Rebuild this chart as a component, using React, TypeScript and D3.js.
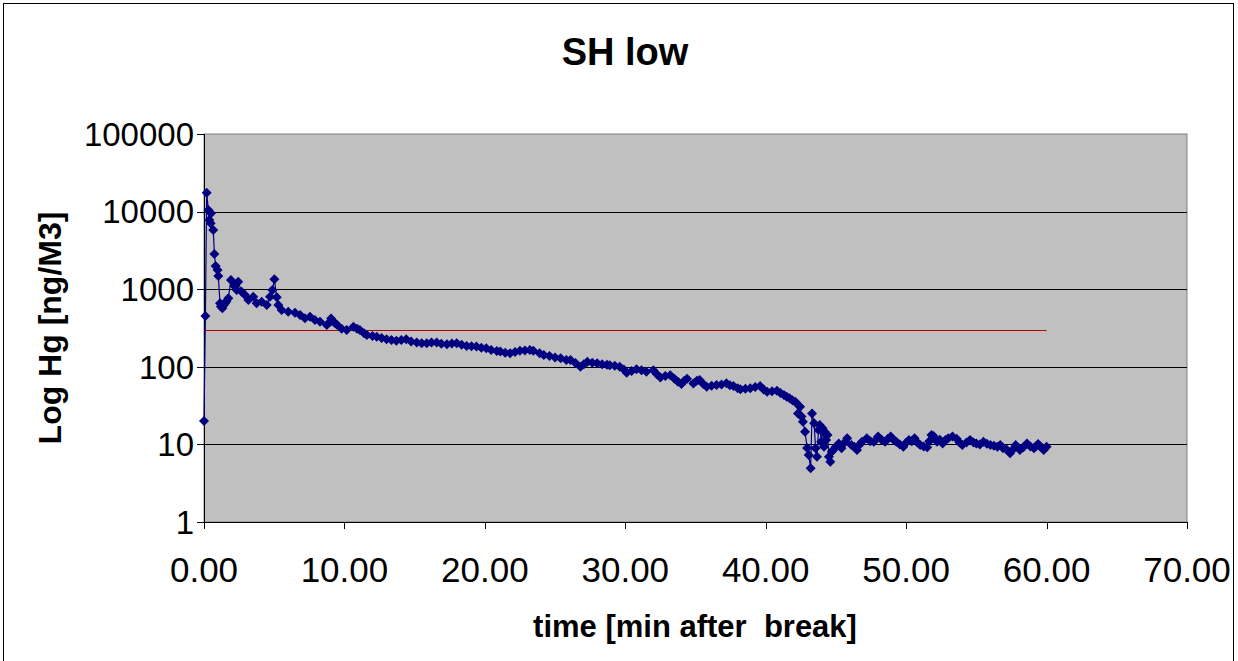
import * as d3 from 'd3';

// minutes after break
const times = [
  0, 0.1, 0.19, 0.31, 0.38, 0.47, 0.5, 0.66, 0.74, 0.83, 0.97, 1.02, 1.14, 1.2, 1.31, 1.4, 1.5, 1.6, 1.73,
  1.92, 2.16, 2.33, 2.44, 2.68, 2.92, 3.16, 3.51, 3.75, 4.11, 4.47, 4.7, 4.87, 5.01, 5.18, 5.29, 5.53,
  6.0, 6.48, 6.84, 7.19, 7.55, 7.9, 8.26, 8.74, 9.0, 9.05, 9.3, 9.45, 9.8, 10.16, 10.64, 10.9, 11.1,
  11.4, 11.6, 12.0, 12.3, 12.65, 13.0, 13.35, 13.7, 14.05, 14.4, 14.75, 15.15, 15.5, 15.86, 16.2,
  16.57, 16.9, 17.3, 17.65, 18.0, 18.35, 18.7, 19.05, 19.4, 19.75, 20.1, 20.45, 20.85, 21.1, 21.45,
  21.8, 22.15, 22.5, 22.85, 23.2, 23.45, 23.9, 24.2, 24.6, 25.0, 25.4, 25.8, 26.1, 26.45, 26.8, 27.05,
  27.3, 27.65, 28.0, 28.35, 28.7, 28.9, 29.25, 29.6, 29.9, 30.1, 30.45, 30.8, 31.15, 31.5, 32.0, 32.25,
  32.5, 32.85, 33.2, 33.5, 33.75, 34.0, 34.2, 34.4, 34.85, 35.1, 35.3, 35.55, 35.8, 36.15, 36.5, 36.85,
  37.2, 37.45, 37.7, 38.0, 38.2, 38.55, 38.9, 39.25, 39.6, 39.85, 40.1, 40.45, 40.8, 41.05, 41.3, 41.5,
  41.7, 41.9, 42.1, 42.2, 42.3, 42.45, 42.55, 42.65, 42.8, 42.95, 43.06, 43.2, 43.3, 43.45, 43.55,
  43.65, 43.76, 43.85, 43.95, 44.05, 44.15, 44.2, 44.3, 44.4, 44.5, 44.6, 44.7, 44.8, 45.0, 45.2, 45.4,
  45.6, 45.8, 46.1, 46.3, 46.5, 46.7, 46.85, 47.2, 47.45, 47.7, 48.0, 48.25, 48.5, 48.7, 48.9, 49.1,
  49.3, 49.55, 49.8, 50.0, 50.2, 50.4, 50.6, 50.8, 51.0, 51.25, 51.5, 51.65, 51.8, 51.95, 52.2, 52.4,
  52.6, 52.8, 53.0, 53.3, 53.6, 53.8, 54.0, 54.3, 54.55, 54.8, 55.0, 55.25, 55.5, 55.75, 56.0, 56.25,
  56.5, 56.7, 56.9, 57.15, 57.4, 57.6, 57.8, 58.0, 58.1, 58.35, 58.6, 58.85, 59.1, 59.25, 59.4, 59.6,
  59.8, 60.0,
];

// Hg concentration, ng/m3
const hg = [
  20, 452, 17500, 10500, 7800, 7070, 9500, 5800, 2840, 1990, 1770, 1480, 658, 600, 567, 620, 658, 700, 763,
  1315, 1100, 977, 1250, 925, 842, 726, 801, 658, 690, 626, 801, 977, 1340, 787, 626, 540,
  513, 498, 465, 422, 442, 400, 381, 346, 380, 420, 370, 350, 310, 298, 329, 310, 298,
  270, 257, 250, 244, 235, 226, 222, 217, 222, 226, 212, 205, 201, 201, 206,
  205, 198, 195, 200, 201, 192, 185, 184, 182, 176, 173, 165, 160, 157, 152,
  149, 155, 161, 162, 165, 161, 149, 142, 138, 132, 129, 122, 122, 112, 100, 108,
  116, 113, 111, 108, 106, 105, 103, 100, 92, 84, 88, 93, 90, 86.5, 90, 80,
  73, 76, 78, 70, 64, 60, 66, 70, 61, 66, 67.6, 60, 55.4, 57, 58.3, 59,
  61.3, 58, 56.6, 53, 51.3, 52, 52.8, 55, 56.6, 51, 47.8, 48.5, 49.2, 46, 43.3, 41,
  39.3, 37, 35.5, 33.9, 25.1, 30.6, 22.8, 19.6, 14.6, 9, 7.3, 4.92, 25.1, 18.7, 8.9,
  6.95, 15.3, 17.8, 10.8, 16.1, 9.3, 14.6, 11.4, 13.2, 6.95, 5.98, 8.05, 8.47, 9.3, 10.3, 8.9,
  10.5, 12.0, 9.8, 9.3, 8.47, 10.0, 10.8, 12.0, 11.0, 10.8, 12.6, 11.5, 10.8, 11.8, 12.6, 11.5,
  10.8, 10.0, 9.3, 10.5, 11.4, 11.0, 12.0, 10.6, 9.8, 9.4, 9.17, 11.0, 13.2, 12.8, 10.8, 11.5,
  10.3, 11.4, 12.0, 12.6, 11.8, 10.6, 9.8, 10.6, 11.4, 10.6, 10.3, 10.0, 10.8, 10.2, 9.8, 9.6,
  9.3, 9.8, 8.9, 8.6, 7.68, 8.6, 9.8, 9.0, 8.47, 9.2, 10.3, 9.4, 8.9, 9.5, 10.1, 9.2,
  8.47, 9.3,
];

const limitValue = 300;
const limitRange = [0, 60];
const yTicks = [1, 10, 100, 1000, 10000, 100000];
const xTicks = [0, 10, 20, 30, 40, 50, 60, 70];

const W = 1238;
const H = 661;
const plot = { left: 204, right: 1187, top: 134, bottom: 522 };
const font = '"Liberation Sans", Arial, sans-serif';

export default function App() {
  const x = d3.scaleLinear().domain([0, 70]).range([plot.left, plot.right]);
  const y = d3.scaleLog().domain([1, 100000]).range([plot.bottom, plot.top]);

  const pts = times.map((t, i) => [x(t), y(hg[i])] as [number, number]);
  const line = d3.line()(pts) || '';
  const diamond = 'M0,-5L5,0L0,5L-5,0Z';

  return (
    <svg width={W} height={H} style={{ position: 'absolute', left: 0, top: 0 }}>
      <rect x={0} y={0} width={W} height={H} fill="#fff" />
      <rect x={3.5} y={3.5} width={1230} height={680} fill="none" stroke="#000" strokeWidth={1} />
      <text x={625} y={65} textAnchor="middle" fontFamily={font} fontWeight="bold" fontSize={38}>
        SH low
      </text>

      <rect
        x={plot.left}
        y={plot.top}
        width={plot.right - plot.left}
        height={plot.bottom - plot.top}
        fill="#c0c0c0"
        stroke="#808080"
      />
      {yTicks.slice(1, -1).map((v) => (
        <line key={v} x1={plot.left} x2={plot.right} y1={Math.round(y(v)) + 0.5} y2={Math.round(y(v)) + 0.5} stroke="#000" />
      ))}

      {/* axes */}
      <line x1={plot.left + 0.5} x2={plot.left + 0.5} y1={plot.top} y2={plot.bottom} stroke="#000" />
      <line x1={plot.left} x2={plot.right} y1={plot.bottom + 0.5} y2={plot.bottom + 0.5} stroke="#000" />
      {yTicks.map((v) => (
        <g key={v}>
          <line x1={plot.left - 7} x2={plot.left} y1={Math.round(y(v)) + 0.5} y2={Math.round(y(v)) + 0.5} stroke="#000" />
          <text x={194} y={y(v)} dy="0.36em" textAnchor="end" fontFamily={font} fontSize={33}>
            {v}
          </text>
        </g>
      ))}
      {xTicks.map((t) => (
        <g key={t}>
          <line x1={Math.round(x(t)) + 0.5} x2={Math.round(x(t)) + 0.5} y1={plot.bottom} y2={plot.bottom + 7} stroke="#000" />
          <text x={x(t)} y={582} textAnchor="middle" fontFamily={font} fontSize={35}>
            {d3.format('.2f')(t)}
          </text>
        </g>
      ))}

      <text
        x={695}
        y={637}
        textAnchor="middle"
        fontFamily={font}
        fontWeight="bold"
        fontSize={31}
        style={{ whiteSpace: 'pre' }}
      >
        {'time [min after  break]'}
      </text>
      <text
        transform={`translate(61,${(plot.top + plot.bottom) / 2}) rotate(-90)`}
        textAnchor="middle"
        fontFamily={font}
        fontWeight="bold"
        fontSize={32}
      >
        Log Hg [ng/M3]
      </text>

      {/* threshold */}
      <line
        x1={x(limitRange[0])}
        x2={x(limitRange[1])}
        y1={Math.round(y(limitValue)) + 0.5}
        y2={Math.round(y(limitValue)) + 0.5}
        stroke="#b00000"
      />

      <path d={line} fill="none" stroke="#000080" strokeWidth={1.2} />
      {pts.map(([px, py], i) => (
        <path key={i} d={diamond} transform={`translate(${px},${py})`} fill="#000080" />
      ))}
    </svg>
  );
}
